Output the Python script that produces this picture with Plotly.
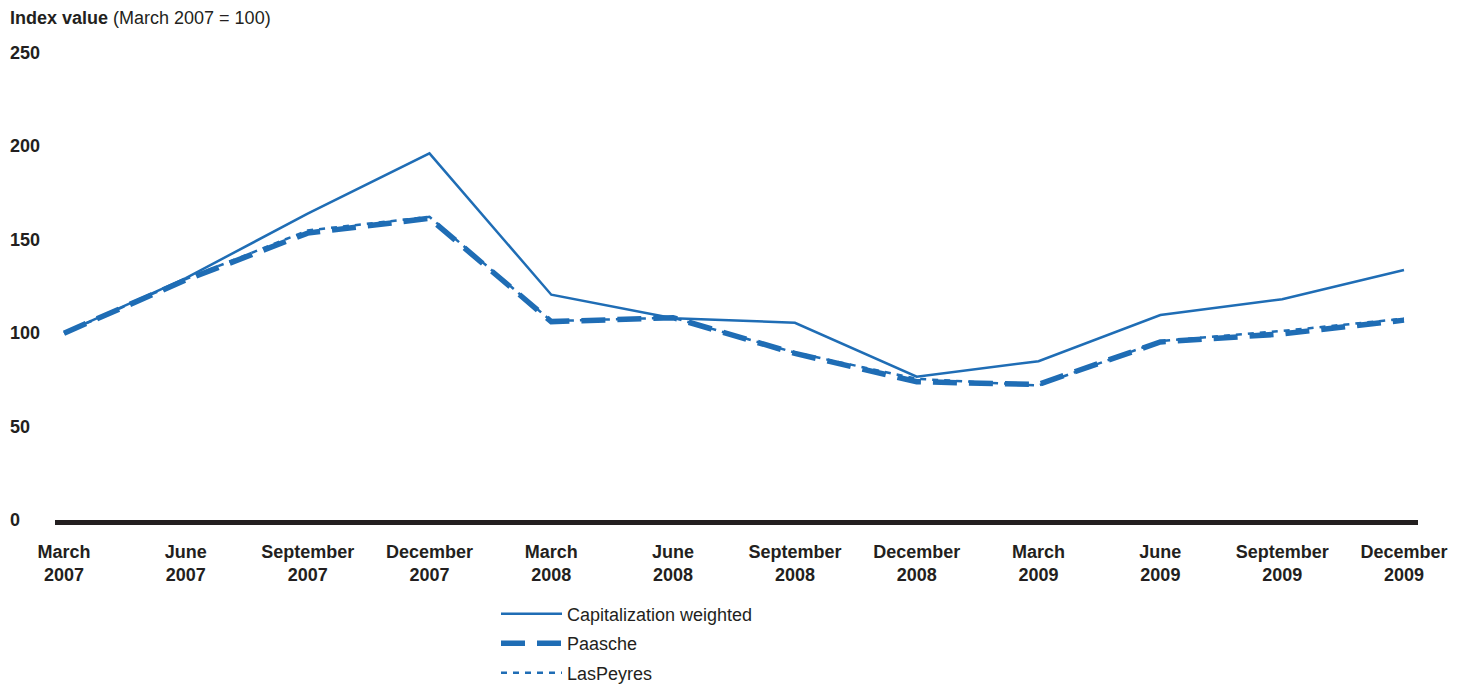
import plotly.graph_objects as go

categories = ["March<br>2007", "June<br>2007", "September<br>2007", "December<br>2007",
              "March<br>2008", "June<br>2008", "September<br>2008", "December<br>2008",
              "March<br>2009", "June<br>2009", "September<br>2009", "December<br>2009"]
cap_weighted = [100, 129.5, 164, 196.3, 120.6, 108, 105.6, 76.7, 85, 109.7, 118.2, 133.8]
paasche = [100, 128.5, 153.6, 161.5, 106.2, 108.3, 89.2, 74.0, 72.6, 95.3, 99.6, 107.0]
laspeyres = [100, 129.0, 155.0, 162.3, 106.5, 108.3, 89.6, 75.6, 72.0, 95.8, 101.2, 107.8]
y_ticks = [0, 50, 100, 150, 200, 250]

BLUE = "#1f6db5"
DARK = "#231f20"
FONT = "Liberation Sans, Arial, sans-serif"

xs = list(range(len(categories)))

fig = go.Figure()
fig.add_trace(go.Scatter(x=xs, y=cap_weighted, mode="lines", name="Capitalization weighted",
                         legendgroup="a", line=dict(color=BLUE, width=2.5)))
fig.add_trace(go.Scatter(x=xs, y=paasche, mode="lines", name="Paasche",
                         legendgroup="b", line=dict(color=BLUE, width=5.5, dash="24px,12px")))
fig.add_trace(go.Scatter(x=xs, y=laspeyres, mode="lines", name="LasPeyres",
                         legendgroup="c", line=dict(color=BLUE, width=2.5, dash="6px,6px")))

L, R, T, B = 55, 41, 53, 165
W, H = 1459, 685
plot_w = W - L - R
plot_h = H - T - B

annotations = []
for v in y_ticks:
    annotations.append(dict(x=-(L - 8) / plot_w, y=v, xref="paper", yref="y",
                            text="<b>%d</b>" % v, showarrow=False, xanchor="left", yanchor="middle",
                            font=dict(family=FONT, size=18, color=DARK)))
annotations.append(dict(x=-(L - 8) / plot_w, y=1 + 35 / plot_h, xref="paper", yref="paper",
                        text="<b>Index value</b> (March 2007 = 100)", showarrow=False,
                        xanchor="left", yanchor="middle",
                        font=dict(family=FONT, size=18, color=DARK)))

fig.update_layout(
    width=W, height=H,
    margin=dict(l=L, r=R, t=T, b=B, autoexpand=False),
    plot_bgcolor="white", paper_bgcolor="white",
    font=dict(family=FONT, color=DARK),
    showlegend=True,
    legend=dict(x=441 / plot_w, y=-0.162, xanchor="left", yanchor="top",
                orientation="v", font=dict(family=FONT, size=18, color=DARK),
                itemwidth=61, tracegroupgap=3, bgcolor="rgba(0,0,0,0)"),
    annotations=annotations,
    xaxis=dict(range=[-0.074, 11.115], tickvals=xs, ticktext=["<b>%s</b>" % c for c in categories],
               showgrid=False, zeroline=False, showline=True, linewidth=5, linecolor=DARK,
               ticks="", tickfont=dict(family=FONT, size=18, color=DARK), ticklabelstandoff=11,
               automargin=False),
    yaxis=dict(range=[0, 250], showgrid=False, zeroline=False, showticklabels=False, ticks="",
               automargin=False),
)

fig.write_html("out.html", config={"displayModeBar": False},
               post_script="document.body.style.margin='0';document.body.style.overflow='hidden';")
